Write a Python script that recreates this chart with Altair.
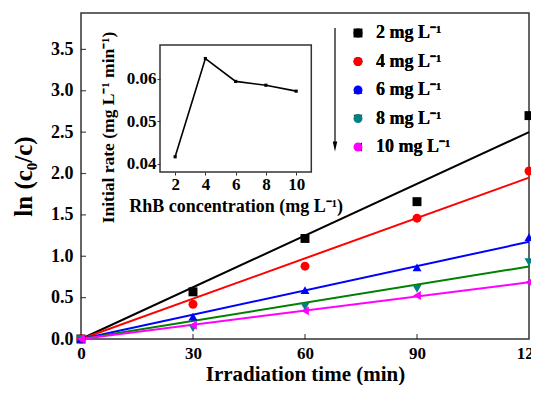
import altair as alt
import pandas as pd

# ---------------- data ----------------
times = [0, 30, 60, 90, 120]
series = ["2 mg L⁻¹", "4 mg L⁻¹", "6 mg L⁻¹", "8 mg L⁻¹", "10 mg L⁻¹"]
vals_2 = [0, 0.57, 1.215, 1.66, 2.70]
vals_4 = [0, 0.42, 0.88, 1.46, 2.03]
vals_6 = [0, 0.27, 0.59, 0.865, 1.23]
vals_8 = [0, 0.13, 0.39, 0.605, 0.93]
vals_10 = [0, 0.167, 0.34, 0.525, 0.685]
fit_start = [0, 0, 0, 0, 0]
fit_end = [2.50, 1.95, 1.175, 0.876, 0.685]   # fitted lines at 120 min
point_colors = ["#000000", "#FF0000", "#0000FF", "#008080", "#FF00FF"]
line_colors = ["#000000", "#FF0000", "#0000FF", "#008000", "#FF00FF"]
shapes = ["square", "circle", "triangle-up", "triangle-down", "triangle-left"]

x_tick_labels = [0, 30, 60, 90, 120]
y_tick_labels = [0.0, 0.5, 1.0, 1.5, 2.0, 2.5, 3.0, 3.5]
x_inner_ticks = [30, 60, 90]
y_inner_ticks = [0.5, 1.0, 1.5, 2.0, 2.5, 3.0, 3.5]

conc = [2, 4, 6, 8, 10]
rate = [0.0416, 0.0648, 0.0594, 0.0585, 0.0571]
inset_x_ticks = [2, 4, 6, 8, 10]
inset_y_ticks = [0.04, 0.05, 0.06]

FONT = "Liberation Serif"
W, H = 448, 326

all_vals = [vals_2, vals_4, vals_6, vals_8, vals_10]
pts = pd.DataFrame(
    [{"t": t, "v": v, "s": s} for s, vs in zip(series, all_vals) for t, v in zip(times, vs)]
)
lines = pd.DataFrame(
    [{"t": t, "v": v, "s": s}
     for s, a, b in zip(series, fit_start, fit_end)
     for t, v in ((times[0], a), (times[-1], b))]
)

xs = alt.Scale(domain=[0, 120], nice=False, zero=False)
ys = alt.Scale(domain=[0, 3.94], nice=False, zero=False)

x_axis = alt.Axis(values=x_tick_labels, format="d", ticks=False, domain=False, grid=False,
                  labelPadding=6, labelFontSize=17, title="Irradiation time (min)",
                  titleFontSize=21, titlePadding=2, labelFlush=False)
y_axis = alt.Axis(values=y_tick_labels, format=".1f", ticks=False, domain=False, grid=False,
                  labelPadding=8, labelFontSize=18, title="ln (c₀/c)",
                  titleFontSize=25, titlePadding=14)

leg = alt.Legend(orient="none", legendX=268, legendY=11, title=None, padding=0,
                 labelFont=FONT, labelFontSize=18, labelFontWeight="bold", labelColor="black",
                 symbolSize=80, rowPadding=10.5, labelOffset=9, symbolStrokeWidth=0)

line_layer = alt.Chart(lines).mark_line(strokeWidth=2).encode(
    x=alt.X("t:Q", scale=xs, axis=x_axis),
    y=alt.Y("v:Q", scale=ys, axis=y_axis),
    color=alt.Color("s:N", scale=alt.Scale(domain=series, range=line_colors), legend=None),
    detail="s:N",
)

point_layer = alt.Chart(pts).mark_point(filled=True, size=80, opacity=1).encode(
    x=alt.X("t:Q", scale=xs),
    y=alt.Y("v:Q", scale=ys),
    color=alt.Color("s:N", scale=alt.Scale(domain=series, range=point_colors), legend=leg),
    shape=alt.Shape("s:N", scale=alt.Scale(domain=series, range=shapes), legend=leg),
)

xt = alt.Chart(pd.DataFrame({"t": x_inner_ticks})).mark_tick(
    orient="vertical", size=5, thickness=1.2, color="black").encode(
    x=alt.X("t:Q", scale=xs), y=alt.value(H - 2.5))
yt = alt.Chart(pd.DataFrame({"v": y_inner_ticks})).mark_tick(
    orient="horizontal", size=5, thickness=1.2, color="black").encode(
    y=alt.Y("v:Q", scale=ys), x=alt.value(2.5))

main = alt.layer(line_layer, point_layer, xt, yt).resolve_scale(color="independent")

# ---------------- inset ----------------
ixs = alt.Scale(domain=[1, 11], range=[79, 230.3], nice=False, zero=False)
iys = alt.Scale(domain=[0.038, 0.068], range=[159, 32], nice=False, zero=False)

inset_df = pd.DataFrame({"c": conc, "r": rate})
inset_line = alt.Chart(inset_df).mark_line(
    color="black", strokeWidth=1.6,
    point=alt.OverlayMarkDef(shape="square", size=10, filled=True, color="black")).encode(
    x=alt.X("c:Q", scale=ixs,
            axis=alt.Axis(orient="bottom", offset=-(H - 159), values=inset_x_ticks, format="d",
                          tickSize=3, ticks=True, domain=False, grid=False, labelPadding=1,
                          labelFontSize=17, title="RhB concentration (mg L⁻¹)",
                          titleFontSize=18, titlePadding=5, labelFlush=False)),
    y=alt.Y("r:Q", scale=iys,
            axis=alt.Axis(orient="left", offset=-79, values=inset_y_ticks, format=".2f",
                          tickSize=3, ticks=True, domain=False, grid=False, labelPadding=1,
                          labelFontSize=17, title="Initial rate (mg L⁻¹ min⁻¹)",
                          titleFontSize=17.5, titlePadding=9, titleY=114)),
)
inset_frame = alt.Chart(pd.DataFrame({"a": [0]})).mark_rect(
    fillOpacity=0, stroke="#333333", strokeWidth=1.5).encode(
    x=alt.datum(1, scale=ixs), x2=alt.datum(11),
    y=alt.datum(0.038, scale=iys), y2=alt.datum(0.068),
)
inset = alt.layer(inset_frame, inset_line)

# ---------------- arrow ----------------
arrow_line = alt.Chart(pd.DataFrame({"a": [0]})).mark_rule(color="black", strokeWidth=1.2).encode(
    x=alt.value(254), y=alt.value(15), y2=alt.value(134))
arrow_head = alt.Chart(pd.DataFrame({"a": [0]})).mark_point(
    shape="M-0.45,-1L0.45,-1L0,1Z", filled=True, size=100, color="black", opacity=1).encode(
    x=alt.value(254), y=alt.value(133.5))

chart = alt.layer(main, inset, arrow_line, arrow_head).resolve_scale(
    x="independent", y="independent"
).properties(
    width=W, height=H,
    background="white",
    autosize=alt.AutoSizeParams(type="none"),
    padding={"left": 73, "top": 5, "right": 2, "bottom": 46},
).configure_view(
    stroke="#333333", strokeWidth=1.5
).configure_axis(
    labelFont=FONT, titleFont=FONT, labelFontWeight="bold", titleFontWeight="bold",
    labelColor="black", titleColor="black", tickColor="#333333",
)

chart.save("out.html", embed_options={"renderer": "svg", "actions": False})
